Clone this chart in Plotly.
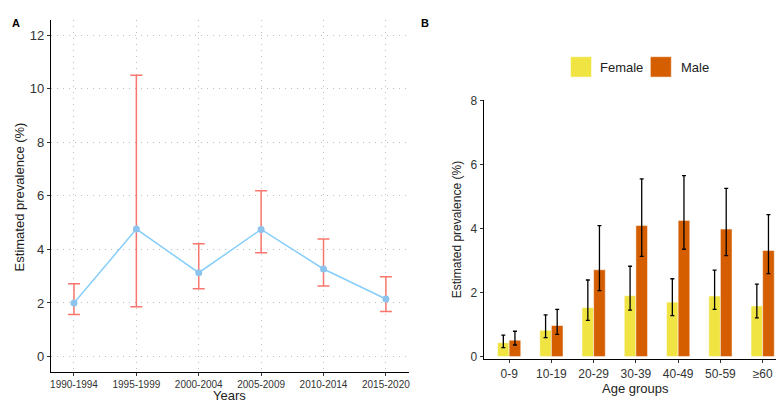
import plotly.graph_objects as go

# panel A: prevalence by period
periods = ["1990-1994", "1995-1999", "2000-2004", "2005-2009", "2010-2014", "2015-2020"]
prev = [2.00, 4.76, 3.13, 4.75, 3.27, 2.15]
prev_hi = [2.72, 10.51, 4.21, 6.19, 4.39, 2.98]
prev_lo = [1.57, 1.86, 2.53, 3.88, 2.63, 1.68]

# panel B: prevalence by age group and sex
ages = ["0-9", "10-19", "20-29", "30-39", "40-49", "50-59", "≥60"]
female = [0.43, 0.82, 1.53, 1.90, 1.70, 1.89, 1.58]
female_hi = [0.67, 1.30, 2.39, 2.82, 2.43, 2.70, 2.26]
female_lo = [0.28, 0.59, 1.13, 1.45, 1.28, 1.47, 1.21]
male = [0.51, 0.97, 2.71, 4.09, 4.25, 3.98, 3.31]
male_hi = [0.79, 1.47, 4.09, 5.55, 5.65, 5.25, 4.43]
male_lo = [0.36, 0.69, 2.06, 3.13, 3.35, 3.15, 2.59]

FONT = "Liberation Sans, Arial, sans-serif"
W, H = 784, 402

def px(x):
    return x / W

def py(y):
    return 1 - y / H

fig = go.Figure()

fig.add_trace(go.Scatter(
    x=periods, y=prev, mode="lines+markers",
    line=dict(color="#87CEFA", width=1.5),
    marker=dict(color="#8CC4EE", size=7),
    error_y=dict(type="data", symmetric=False,
                 array=[h - v for h, v in zip(prev_hi, prev)],
                 arrayminus=[v - l for v, l in zip(prev, prev_lo)],
                 color="#F8766D", thickness=1.5, width=6),
    xaxis="x", yaxis="y", showlegend=False,
))

fig.add_trace(go.Bar(
    x=ages, y=female, name="Female", marker=dict(color="#F0E442", line=dict(color="white", width=0.5)),
    error_y=dict(type="data", symmetric=False,
                 array=[h - v for h, v in zip(female_hi, female)],
                 arrayminus=[v - l for v, l in zip(female, female_lo)],
                 color="black", thickness=1.3, width=2),
    xaxis="x2", yaxis="y2", showlegend=False,
))
fig.add_trace(go.Bar(
    x=ages, y=male, name="Male", marker=dict(color="#D55E00", line=dict(color="white", width=0.5)),
    error_y=dict(type="data", symmetric=False,
                 array=[h - v for h, v in zip(male_hi, male)],
                 arrayminus=[v - l for v, l in zip(male, male_lo)],
                 color="black", thickness=1.3, width=2),
    xaxis="x2", yaxis="y2", showlegend=False,
))

axis_common = dict(showline=True, linecolor="black", linewidth=1.2, ticks="outside",
                   ticklen=3, tickcolor="#333", zeroline=False)

def tf(size):
    return dict(family=FONT, color="#333", size=size)

fig.update_layout(
    width=W, height=H, margin=dict(l=0, r=0, t=0, b=0),
    paper_bgcolor="white", plot_bgcolor="white",
    font=dict(family=FONT, color="#222"),
    barmode="group", bargap=0.45, bargroupgap=0,
    xaxis=dict(domain=[px(42), px(401)], range=[-0.37, 5.37], anchor="y",
               showgrid=True, gridcolor="#BDBDBD", griddash="1px,5px", gridwidth=1,
               tickfont=tf(10), **axis_common),
    yaxis=dict(domain=[py(368), py(5)], range=[-0.58, 12.58], anchor="x",
               tickvals=[0, 2, 4, 6, 8, 10, 12],
               showgrid=True, gridcolor="#BDBDBD", griddash="1px,5px", gridwidth=1,
               tickfont=tf(13), **axis_common),
    xaxis2=dict(domain=[px(476), px(781)], range=[-0.6, 6.6], anchor="y2", showgrid=False,
                tickfont=tf(12), **axis_common),
    yaxis2=dict(domain=[py(354.7), py(88)], range=[-0.08, 8.0], anchor="x2", showgrid=False,
                tickvals=[0, 2, 4, 6, 8], tickfont=tf(12), **axis_common),
)

ann = [
    dict(text="<b>A</b>", x=px(7), y=py(8), xanchor="center", yanchor="middle", font=dict(size=11, color="black")),
    dict(text="<b>B</b>", x=px(417), y=py(8), xanchor="center", yanchor="middle", font=dict(size=11, color="black")),
    dict(text="Estimated prevalence (%)", x=px(10), y=py(187), textangle=-90,
         xanchor="center", yanchor="middle", font=dict(size=13)),
    dict(text="Years", x=px(221), y=py(392), xanchor="center", yanchor="middle", font=dict(size=13)),
    dict(text="Estimated prevalence (%)", x=px(450), y=py(221), textangle=-90,
         xanchor="center", yanchor="middle", font=dict(size=12)),
    dict(text="Age groups", x=px(628), y=py(385), xanchor="center", yanchor="middle", font=dict(size=13)),
    dict(text="Female", x=px(591), y=py(54), xanchor="left", yanchor="middle", font=dict(size=13)),
    dict(text="Male", x=px(672), y=py(54), xanchor="left", yanchor="middle", font=dict(size=13)),
]
for a in ann:
    a.update(xref="paper", yref="paper", showarrow=False)
fig.update_layout(annotations=ann)

# legend keys
fig.add_shape(type="rect", xref="paper", yref="paper", x0=px(563), x1=px(584), y0=py(64), y1=py(43),
              fillcolor="#F0E442", line=dict(color="white", width=0.5))
fig.add_shape(type="rect", xref="paper", yref="paper", x0=px(643), x1=px(664), y0=py(64), y1=py(43),
              fillcolor="#D55E00", line=dict(color="white", width=0.5))

fig.write_html("out.html")
